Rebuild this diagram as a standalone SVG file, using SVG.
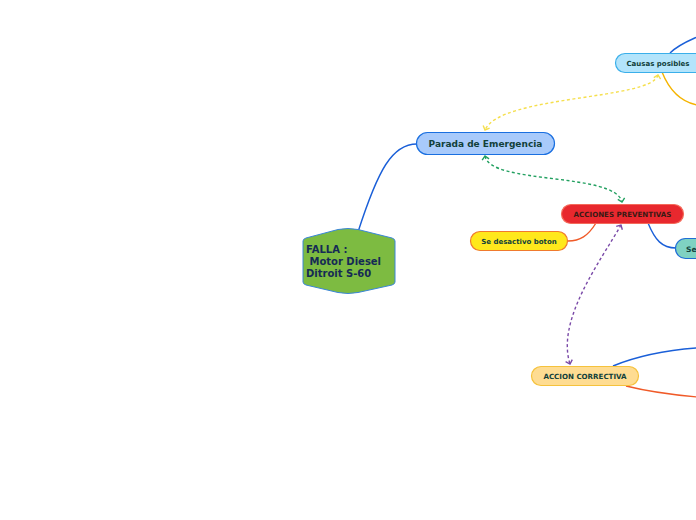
<svg xmlns="http://www.w3.org/2000/svg" width="696" height="520" viewBox="0 0 696 520">
<style>
.t{font-family:"DejaVu Sans","Verdana",sans-serif;font-weight:bold;text-anchor:middle;fill:#11403a}
.c{fill:none;stroke-width:1.4}
.d{fill:none;stroke-width:1.4;stroke-dasharray:3 2.5}
</style>
<defs>
<marker id="ay" markerUnits="userSpaceOnUse" markerWidth="10" markerHeight="10" refX="5" refY="5" orient="auto-start-reverse" viewBox="0 0 10 10"><path d="M1.5,1.5 L5,5 L1.5,8.5" fill="none" stroke="#f5df4d" stroke-width="1.4"/></marker>
<marker id="ag" markerUnits="userSpaceOnUse" markerWidth="10" markerHeight="10" refX="5" refY="5" orient="auto-start-reverse" viewBox="0 0 10 10"><path d="M1.5,1.5 L5,5 L1.5,8.5" fill="none" stroke="#22a060" stroke-width="1.4"/></marker>
<marker id="ap" markerUnits="userSpaceOnUse" markerWidth="10" markerHeight="10" refX="5" refY="5" orient="auto-start-reverse" viewBox="0 0 10 10"><path d="M1.5,1.5 L5,5 L1.5,8.5" fill="none" stroke="#7a4aa8" stroke-width="1.4"/></marker>
</defs>
<rect width="696" height="520" fill="#ffffff"/>
<g id="connectors">
<path class="c" stroke="#1a5fd8" d="M358,232 C378,170 392,144 417,144"/>
<path class="c" stroke="#1a5fd8" d="M670,53 C678,45 688,41 697,37"/>
<path class="c" stroke="#f5b400" d="M662,72 C670,92 682,102 697,105"/>
<path class="d" stroke="#f5df4d" marker-start="url(#ay)" marker-end="url(#ay)" d="M658,75 C652,100 500,95 485,130"/>
<path class="d" stroke="#22a060" marker-start="url(#ag)" marker-end="url(#ag)" d="M485,156 C490,185 615,172 622,202"/>
<path class="c" stroke="#f05a28" d="M596,223 C588,236 580,241 568,241"/>
<path class="c" stroke="#1a5fd8" d="M648,223 C655,240 662,248 676,248"/>
<path class="d" stroke="#7a4aa8" marker-start="url(#ap)" marker-end="url(#ap)" d="M621,225 C600,262 556,320 570,364"/>
<path class="c" stroke="#1a5fd8" d="M613,366 C640,355 670,350 697,348"/>
<path class="c" stroke="#f05a28" d="M626,386 C650,392 675,395 697,397"/>
</g>
<g id="falla">
<path d="M303,241 Q303,239 306,238 L338,229.5 Q348,227.5 358,229.5 L392,238 Q395,239 395,241 L395,282 Q395,284 392,285 L358,292.5 Q348,294.5 338,292.5 L306,285 Q303,284 303,282 Z" fill="#7dbb41" stroke="#3a86d8" stroke-width="1"/>
<text font-family="DejaVu Sans,Verdana,sans-serif" font-weight="bold" font-size="10" fill="#152a55"><tspan x="306" y="253">FALLA :</tspan><tspan x="306" y="265" xml:space="preserve"> Motor Diesel</tspan><tspan x="306" y="277">Ditroit S-60</tspan></text>
</g>
<g id="parada">
<rect x="416.5" y="132.5" width="138" height="22" rx="11" fill="#a8cafb" stroke="#1a6fe0" stroke-width="1.2"/>
<text class="t" x="485.5" y="147" font-size="9">Parada de Emergencia</text>
</g>
<g id="causas">
<rect x="615.5" y="53.5" width="90" height="19" rx="9.5" fill="#b3e4fb" stroke="#3aafea" stroke-width="1.2"/>
<text class="t" x="658" y="66" font-size="7">Causas posibles</text>
</g>
<g id="preventivas">
<rect x="561.5" y="204.5" width="122" height="19" rx="9.5" fill="#e8282e" stroke="#f46a5a" stroke-width="1.2"/>
<text class="t" x="622.5" y="217" font-size="7.1" style="fill:#3a1a14">ACCIONES PREVENTIVAS</text>
</g>
<g id="desactivo">
<rect x="470.5" y="231.5" width="97" height="19" rx="9.5" fill="#ffe81c" stroke="#f07a2e" stroke-width="1.2"/>
<text class="t" x="519" y="244" font-size="7">Se desactivo boton</text>
</g>
<g id="se">
<rect x="675.5" y="238.5" width="70" height="20" rx="10" fill="#7fd2c2" stroke="#1f6ed6" stroke-width="1.2"/>
<text class="t" x="686" y="251.5" font-size="7.5" style="text-anchor:start">Se</text>
</g>
<g id="correctiva">
<rect x="531.5" y="366.5" width="107" height="19" rx="9.5" fill="#fedc92" stroke="#f5c23c" stroke-width="1.2"/>
<text class="t" x="585" y="379" font-size="7.1">ACCION CORRECTIVA</text>
</g>
</svg>
